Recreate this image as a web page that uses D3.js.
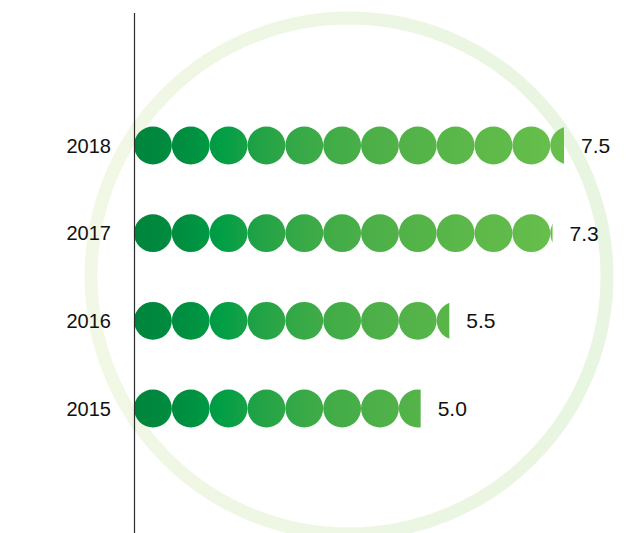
<!DOCTYPE html>
<html><head><meta charset="utf-8">
<script src="https://cdn.jsdelivr.net/npm/d3@7"></script>
<style>html,body{margin:0;padding:0;background:#fff;}svg{display:block;}</style>
</head><body>
<script>
const years = ["2018", "2017", "2016", "2015"];
const values = [7.5, 7.3, 5.5, 5.0];
const valueLabels = ["7.5", "7.3", "5.5", "5.0"];
const unitPerDot = 0.66;

const W = 641, H = 533;
const svg = d3.select("body").append("svg").attr("width", W).attr("height", H);
const defs = svg.append("defs");

// background ring
const rg = defs.append("linearGradient").attr("id", "ringGrad")
  .attr("x1", "0%").attr("y1", "0%").attr("x2", "100%").attr("y2", "0%");
rg.append("stop").attr("offset", "0%").attr("stop-color", "#f1f8e5");
rg.append("stop").attr("offset", "100%").attr("stop-color", "#e8f5e1");
svg.append("circle").attr("cx", 349).attr("cy", 276).attr("r", 258)
  .attr("fill", "none").attr("stroke", "url(#ringGrad)").attr("stroke-width", 13);

const x = d3.scaleLinear().domain([0, 7.5]).range([134, 564]);
const y = d3.scalePoint().domain(years).range([145.5, 408.5]);

const dotD = x(unitPerDot) - x(0);
const r = dotD / 2;

const g = defs.append("linearGradient").attr("id", "dotGrad")
  .attr("gradientUnits", "userSpaceOnUse")
  .attr("x1", x(0)).attr("y1", 0).attr("x2", x(7.5)).attr("y2", 0);
[[0, "#00843d"], [0.12, "#008f40"], [0.2, "#009e45"], [0.28, "#1fa246"],
 [0.4, "#3aaa47"], [0.55, "#4caf48"], [0.75, "#5ab749"], [1, "#68bf4b"]]
  .forEach(([o, c]) => g.append("stop").attr("offset", o).attr("stop-color", c));

years.forEach((yr, i) => {
  const v = values[i];
  const cy = y(yr);
  const clipId = "clip" + i;
  defs.append("clipPath").attr("id", clipId).append("rect")
    .attr("x", x(0)).attr("y", cy - r - 1).attr("width", x(v) - x(0)).attr("height", dotD + 2);
  const n = Math.ceil(v / unitPerDot - 1e-9);
  const row = svg.append("g").attr("clip-path", `url(#${clipId})`);
  row.selectAll("circle").data(d3.range(n)).join("circle")
    .attr("cx", k => x(k * unitPerDot) + r)
    .attr("cy", cy).attr("r", r)
    .attr("fill", "url(#dotGrad)");
  svg.append("text").attr("x", 111).attr("y", cy).attr("dy", "0.36em")
    .attr("text-anchor", "end").attr("font-family", "Liberation Sans, Arial, sans-serif")
    .attr("font-size", 20).attr("fill", "#111").text(yr);
  svg.append("text").attr("x", x(v) + 17).attr("y", cy).attr("dy", "0.36em")
    .attr("font-family", "Liberation Sans, Arial, sans-serif")
    .attr("font-size", 21).attr("fill", "#111").text(valueLabels[i]);
});

svg.append("line").attr("x1", 134.5).attr("x2", 134.5).attr("y1", 13).attr("y2", 533)
  .attr("stroke", "#2a2a2a").attr("stroke-width", 1.2);
</script>
</body></html>
